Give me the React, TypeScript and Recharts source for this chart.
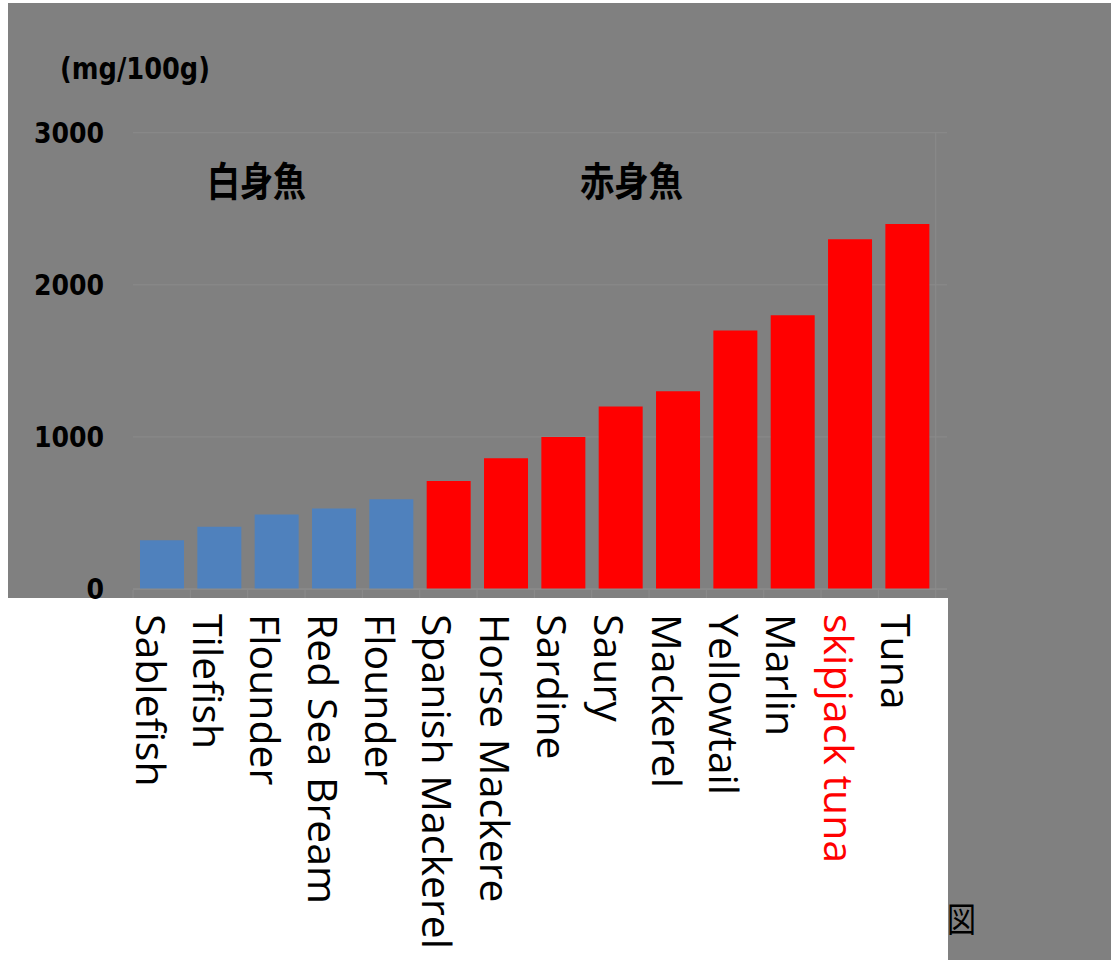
import React from "react";
import { BarChart, Bar, XAxis, YAxis, CartesianGrid, Cell } from "recharts";

const categories = [
  "Sablefish",
  "Tilefish",
  "Flounder",
  "Red Sea Bream",
  "Flounder",
  "Spanish Mackerel",
  "Horse Mackere",
  "Sardine",
  "Saury",
  "Mackerel",
  "Yellowtail",
  "Marlin",
  "skipjack tuna",
  "Tuna",
];
const values = [320, 410, 490, 530, 590, 710, 860, 1000, 1200, 1300, 1700, 1800, 2300, 2400];
const groups = ["white", "white", "white", "white", "white", "red", "red", "red", "red", "red", "red", "red", "red", "red"];
const yTicks = [0, 1000, 2000, 3000];
const unitLabel = "(mg/100g)";
const whiteFishLabel = "白身魚";
const redFishLabel = "赤身魚";
const figLabel = "図";

const data = categories.map((name, i) => ({ name, value: values[i], group: groups[i] }));

const W = 1103;
const H = 957;
const M_TOP = 129.7;
const Y_AXIS_W = 125;
const M_RIGHT = 164;
const X_AXIS_H = 371;
const PAD_RIGHT = 11.3;
const BAND = (W - Y_AXIS_W - M_RIGHT - PAD_RIGHT) / categories.length;

const GRID = "#8b8b8b";

const XTick = (props: any) => {
  const { x, y, payload, index } = props;
  const tx = x - 26;
  const ty = y + 25;
  return (
    <g>
      <line x1={x - BAND / 2} x2={x - BAND / 2} y1={y + 1} y2={y + 9} stroke={GRID} strokeWidth={1} />
      {index === categories.length - 1 && (
        <line x1={x + BAND / 2} x2={x + BAND / 2} y1={y + 1} y2={y + 9} stroke={GRID} strokeWidth={1} />
      )}
      <text
        x={tx}
        y={ty}
        transform={`rotate(90 ${tx} ${ty})`}
        textAnchor="start"
        fontFamily="'Open Sans', sans-serif"
        fontSize={41}
        fill={index === 12 ? "#ff0000" : "#000000"}
      >
        {payload.value}
      </text>
    </g>
  );
};

export default function App() {
  return (
    <div
      style={{
        position: "absolute",
        left: 8,
        top: 3,
        width: W,
        height: H,
        background: "#808080",
        overflow: "hidden",
      }}
    >
      <div
        style={{
          position: "absolute",
          left: 0,
          top: 595,
          width: 940,
          height: H - 595,
          background: "#ffffff",
        }}
      />
      <div style={{ position: "absolute", left: 0, top: 0 }}>
        <BarChart
          width={W}
          height={H}
          data={data}
          margin={{ top: M_TOP, right: M_RIGHT, left: 0, bottom: 0 }}
          barSize={44}
        >
          <CartesianGrid
            stroke={GRID}
            horizontal={true}
            vertical={true}
            verticalCoordinatesGenerator={({ offset }: any) => [offset.left + offset.width - PAD_RIGHT]}
          />
          <XAxis
            dataKey="name"
            type="category"
            interval={0}
            height={X_AXIS_H}
            padding={{ left: 0, right: PAD_RIGHT }}
            tickSize={0}
            tickMargin={0}
            tickLine={false}
            axisLine={{ stroke: GRID }}
            tick={<XTick />}
          />
          <YAxis
            width={Y_AXIS_W}
            domain={[0, 3000]}
            ticks={yTicks}
            interval={0}
            tickSize={0}
            tickMargin={29}
            tickLine={false}
            axisLine={false}
            tick={{
              fill: "#000000",
              fontFamily: "'DejaVu Sans Condensed', 'DejaVu Sans', sans-serif",
              fontWeight: "bold",
              fontSize: 28,
            }}
          />
          <Bar dataKey="value" isAnimationActive={false}>
            {data.map((d, i) => (
              <Cell key={i} fill={d.group === "white" ? "#4f81bd" : "#ff0000"} />
            ))}
          </Bar>
        </BarChart>
      </div>
      <svg
        width={W}
        height={H}
        style={{ position: "absolute", left: 0, top: 0, pointerEvents: "none" }}
      >
        <text
          x={52}
          y={76}
          fontFamily="'DejaVu Sans Condensed', 'DejaVu Sans', sans-serif"
          fontWeight="bold"
          fontSize={30}
          textLength={150}
          lengthAdjust="spacingAndGlyphs"
          fill="#000"
        >
          {unitLabel}
        </text>
        <text
          x={199}
          y={193}
          fontFamily="'Noto Sans CJK JP', sans-serif"
          fontWeight="bold"
          fontSize={40}
          textLength={99}
          lengthAdjust="spacingAndGlyphs"
          fill="#000"
        >
          {whiteFishLabel}
        </text>
        <text
          x={572}
          y={193}
          fontFamily="'Noto Sans CJK JP', sans-serif"
          fontWeight="bold"
          fontSize={40}
          textLength={103}
          lengthAdjust="spacingAndGlyphs"
          fill="#000"
        >
          {redFishLabel}
        </text>
        <text
          x={939}
          y={929}
          fontFamily="'Noto Sans CJK JP', sans-serif"
          fontSize={34}
          textLength={29}
          lengthAdjust="spacingAndGlyphs"
          fill="#000"
        >
          {figLabel}
        </text>
      </svg>
    </div>
  );
}
